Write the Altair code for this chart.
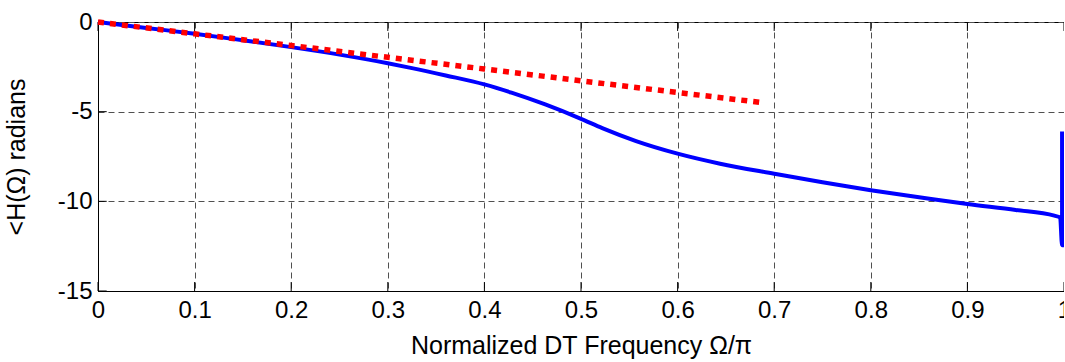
import altair as alt
import pandas as pd

# Blue: phase of H(Omega) (radians) vs normalized frequency
blue_x = [0.0, 0.05, 0.1, 0.15, 0.2, 0.25, 0.3, 0.325, 0.36, 0.4, 0.428, 0.463,
          0.5, 0.522, 0.557, 0.6, 0.644, 0.7, 0.75, 0.8, 0.85, 0.9, 0.95,
          0.99, 0.996, 0.998, 0.998]
blue_y = [0.0, -0.33, -0.65, -1.02, -1.4, -1.82, -2.3, -2.57, -2.98, -3.48, -3.94, -4.6,
          -5.4, -5.92, -6.64, -7.34, -7.9, -8.46, -8.94, -9.38, -9.77, -10.15, -10.48,
          -10.8, -10.9, -12.45, -6.1]

# Red dotted: linear-phase approximation
red_x = [0.0, 0.1, 0.2, 0.3, 0.4, 0.5, 0.6, 0.685]
red_y = [0.0, -0.66, -1.31, -1.97, -2.62, -3.28, -3.93, -4.48]

x_ticks = [0, 0.1, 0.2, 0.3, 0.4, 0.5, 0.6, 0.7, 0.8, 0.9, 1]
y_ticks = [0, -5, -10, -15]

blue = pd.DataFrame({"x": blue_x, "y": blue_y, "o": list(range(len(blue_x)))})
red = pd.DataFrame({"x": red_x, "y": red_y, "o": list(range(len(red_x)))})

FONT = "Liberation Sans"
xs = alt.Scale(domain=[0, 1], nice=False, zero=False)
ys = alt.Scale(domain=[-15, 0], nice=False, zero=False)

xaxis = alt.Axis(values=x_ticks, format="~g", title="Normalized DT Frequency \u03a9/\u03c0",
                 grid=True, gridDash=[6, 4], gridColor="#505050", gridWidth=1,
                 ticks=False, labelPadding=7, titlePadding=11, labelFlush=False,
                 domainColor="black", labelFont=FONT, labelFontSize=24, labelColor="black",
                 titleFont=FONT, titleFontSize=25, titleFontWeight="normal", titleColor="black")
yaxis = alt.Axis(values=y_ticks, labelExpr="toString(datum.value)", title="<H(\u03a9)  radians",
                 grid=True, gridDash=[6, 4], gridColor="#505050", gridWidth=1,
                 ticks=False, labelPadding=6, titlePadding=28, labelFlush=False,
                 domainColor="black", labelFont=FONT, labelFontSize=24, labelColor="black",
                 titleFont=FONT, titleFontSize=25, titleFontWeight="normal", titleColor="black")

blue_line = alt.Chart(blue).mark_line(color="#0000ff", strokeWidth=4, clip=False,
                                      interpolate="monotone").encode(
    x=alt.X("x:Q", scale=xs, axis=xaxis),
    y=alt.Y("y:Q", scale=ys, axis=yaxis),
    order="o:Q",
)
red_line = alt.Chart(red).mark_line(color="#ff0000", strokeWidth=5.5, strokeDash=[6, 6],
                                    strokeCap="butt").encode(
    x=alt.X("x:Q", scale=xs),
    y=alt.Y("y:Q", scale=ys),
    order="o:Q",
)

xt = pd.DataFrame({"x": x_ticks})
yt = pd.DataFrame({"y": y_ticks})
bottom_ticks = alt.Chart(xt).mark_rule(color="black", strokeWidth=1).encode(
    x=alt.X("x:Q", scale=xs), y=alt.datum(-15, scale=ys), y2=alt.datum(-14.5))
top_ticks = alt.Chart(xt).mark_rule(color="black", strokeWidth=1).encode(
    x=alt.X("x:Q", scale=xs), y=alt.datum(0, scale=ys), y2=alt.datum(-0.5))
left_ticks = alt.Chart(yt).mark_rule(color="black", strokeWidth=1).encode(
    y=alt.Y("y:Q", scale=ys), x=alt.datum(0, scale=xs), x2=alt.datum(0.009))

chart = alt.layer(bottom_ticks, top_ticks, left_ticks, blue_line, red_line).properties(
    width=966, height=269,
    autosize=alt.AutoSizeParams(type="none"),
    padding={"left": 98, "top": 22, "right": 0, "bottom": 69},
    background="white",
).configure_view(stroke="black", strokeWidth=1)

chart.save("out.html", embed_options={"renderer": "svg", "actions": False})
